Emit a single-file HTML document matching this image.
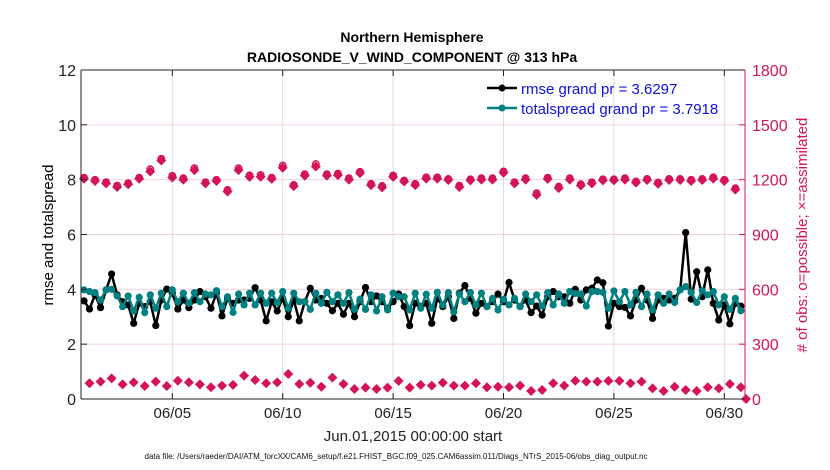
<!DOCTYPE html>
<html><head><meta charset="utf-8"><style>
body{margin:0;background:#fff;}
svg{display:block;font-family:"Liberation Sans",sans-serif;}
</style></head><body>
<svg id="chart" width="830" height="470" viewBox="0 0 830 470">
<rect width="830" height="470" fill="#fff"/>
<text x="412" y="42" text-anchor="middle" font-size="14" font-weight="bold">Northern Hemisphere</text>
<text x="412" y="62" text-anchor="middle" font-size="14" font-weight="bold">RADIOSONDE_V_WIND_COMPONENT @ 313 hPa</text>
<g id="grid"></g>
<g id="marks"></g>
<g id="axes"></g>
<text transform="translate(53,235) rotate(-90)" text-anchor="middle" font-size="15">rmse and totalspread</text>
<text transform="translate(807,235) rotate(-90)" text-anchor="middle" font-size="15" fill="#D4145A"># of obs: o=possible; ×=assimilated</text>
<text x="413" y="441" text-anchor="middle" font-size="15" fill="#222">Jun.01,2015 00:00:00 start</text>
<text x="396" y="459" text-anchor="middle" font-size="8" textLength="503" lengthAdjust="spacingAndGlyphs" fill="#111">data file: /Users/raeder/DAI/ATM_forcXX/CAM6_setup/f.e21.FHIST_BGC.f09_025.CAM6assim.011/Diags_NTrS_2015-06/obs_diag_output.nc</text>
<g>
<line x1="487" y1="88" x2="517" y2="88" stroke="#000" stroke-width="2.5"/>
<circle cx="502" cy="88" r="3.5" fill="#000"/>
<text x="521" y="94" font-size="15" fill="#1010E0">rmse grand pr = 3.6297</text>
<line x1="487" y1="108" x2="517" y2="108" stroke="#008080" stroke-width="2.5"/>
<circle cx="502" cy="108" r="3.5" fill="#008080"/>
<text x="521" y="114" font-size="15" fill="#1010E0">totalspread grand pr = 3.7918</text>
</g>
</svg>
<script>
const xTickLabels = ["06/05","06/10","06/15","06/20","06/25","06/30"];
const xTickDays = [5,10,15,20,25,30];
const leftTicks = [0,2,4,6,8,10,12];
const rightTicks = [0,300,600,900,1200,1500,1800];
const rmse = [3.58,3.28,3.80,3.33,3.98,4.56,3.80,3.55,3.43,2.76,3.49,3.37,3.55,2.68,3.61,4.01,3.86,3.28,3.61,3.33,3.61,3.92,3.73,3.31,3.86,3.03,3.67,3.49,3.61,3.61,3.67,4.06,3.61,2.85,3.55,3.21,3.67,3.00,3.61,2.85,
3.55,4.04,3.61,3.67,3.49,3.22,3.49,3.09,3.49,3.00,3.55,4.07,3.55,3.76,3.55,3.31,3.55,3.83,3.37,2.68,3.49,3.37,3.49,2.76,3.67,3.37,3.73,2.94,3.86,4.14,3.67,3.13,3.49,3.37,3.55,3.83,3.55,4.25,3.61,3.37,
3.61,3.15,3.39,3.06,3.73,3.92,3.73,3.73,3.49,4.00,3.61,3.98,4.04,4.34,4.24,2.66,3.49,3.37,3.34,3.03,3.61,4.04,3.61,2.94,3.61,3.67,3.61,3.67,3.98,6.07,3.64,4.64,3.73,4.71,3.49,2.88,3.43,2.74,3.49,3.39];
const spread = [3.98,3.92,3.88,3.61,3.98,4.00,3.76,3.37,3.76,3.21,3.71,3.15,3.80,3.31,3.86,3.37,3.98,3.55,3.86,3.49,3.88,3.55,3.83,3.80,3.95,3.37,3.73,3.16,3.83,3.43,3.86,3.43,3.86,3.49,3.86,3.51,3.92,3.31,3.86,3.55,
3.55,3.27,3.86,3.49,3.89,3.55,3.80,3.49,3.88,3.27,3.64,3.27,3.80,3.21,3.73,3.25,3.86,3.73,3.73,3.25,3.86,3.31,3.82,3.31,3.89,3.43,3.88,3.18,3.83,3.55,3.88,3.43,3.86,3.37,3.67,3.25,3.64,3.43,3.67,3.37,
3.83,3.55,3.80,3.39,3.88,3.43,3.83,3.49,3.92,3.85,3.83,3.39,3.92,3.92,3.89,3.31,3.94,3.55,3.92,3.43,3.89,3.37,3.83,3.25,3.80,3.49,3.83,3.52,3.98,4.10,3.88,3.52,3.95,3.80,3.92,3.43,3.73,3.27,3.67,3.22];
const possibleUpper = [1211,1199,1186,1168,1181,1211,1257,1314,1221,1208,1263,1186,1199,1144,1263,1224,1226,1211,1277,1171,1230,1285,1230,1233,1208,1243,1177,1166,1223,1195,1177,1213,1213,1204,1168,1202,1208,1208,1245,1186,1208,1126,1211,1162,1208,1175,1186,1202,1202,1208,1190,1204,1184,1204,1204,1199,1204,1213,1199,1153];
const assimUpper = [1205,1193,1180,1160,1175,1205,1245,1305,1212,1200,1252,1180,1193,1135,1252,1215,1216,1204,1265,1165,1222,1272,1222,1225,1200,1236,1170,1158,1215,1190,1170,1206,1206,1198,1160,1196,1200,1200,1238,1180,1200,1117,1204,1154,1200,1168,1180,1196,1196,1200,1184,1198,1178,1198,1198,1193,1198,1206,1193,1146];
const lowerObs = [86,95,113,80,91,71,95,71,100,91,80,64,73,77,128,104,86,91,137,82,89,67,117,82,55,62,55,62,99,62,77,73,89,73,73,86,64,67,64,73,44,49,86,73,100,95,95,99,99,86,95,58,44,67,49,44,64,58,82,64,0];

const L=81,R=745,T=70,B=399;
const xS=d=>84+(d-1)*22.08;
const yS=v=>B-(v/12)*(B-T);
const yR=v=>B-(v/1800)*(B-T);
const NS='http://www.w3.org/2000/svg';
function mk(tag,attrs,parent){const e=document.createElementNS(NS,tag);for(const k in attrs)e.setAttribute(k,attrs[k]);parent.appendChild(e);return e;}
const grid=document.getElementById('grid'),marks=document.getElementById('marks'),axes=document.getElementById('axes');
const RED='#D4145A';
xTickDays.forEach((d,i)=>{
  const x=xS(d);
  const g=mk('line',{x1:x,y1:T,x2:x,y2:B,stroke:'#dcdcdc','stroke-width':1},grid);
  
  
  mk('line',{x1:x,y1:B,x2:x,y2:B-6,stroke:'#222','stroke-width':1},axes);
  mk('line',{x1:x,y1:T,x2:x,y2:T+6,stroke:'#222','stroke-width':1},axes);
  const t=mk('text',{x:x,y:418,'text-anchor':'middle','font-size':15,fill:'#222'},axes);
  t.textContent=xTickLabels[i];
  
  
});
leftTicks.forEach(v=>{
  const y=yS(v);
  if(v>0&&v<12){const g=mk('line',{x1:L,y1:y,x2:R,y2:y,stroke:'#f5d0dc','stroke-width':1},grid);
  
  }
  mk('line',{x1:L,y1:y,x2:L+6,y2:y,stroke:'#222'},axes);
  const t=mk('text',{x:76,y:y+6,'text-anchor':'end','font-size':16,fill:'#222'},axes);
  t.textContent=v;
  
  
});
rightTicks.forEach(v=>{
  const y=yR(v);
  mk('line',{x1:R,y1:y,x2:R-6,y2:y,stroke:RED},axes);
  const t=mk('text',{x:752,y:y+6,'font-size':16,fill:RED},axes);
  t.textContent=v;
  
  
});
mk('line',{x1:L,y1:T,x2:R,y2:T,stroke:'#222'},axes);
mk('line',{x1:L,y1:B,x2:R,y2:B,stroke:'#222'},axes);
mk('line',{x1:L,y1:T,x2:L,y2:B,stroke:'#222'},axes);
mk('line',{x1:R,y1:T,x2:R,y2:B,stroke:RED},axes);

function diamond(x,y,s){return `M${x},${y-s}L${x+s},${y}L${x},${y+s}L${x-s},${y}Z`;}
// obs upper
possibleUpper.forEach((v,k)=>{
  const x=xS(1+0.5*k);
  const c=mk('circle',{cx:x,cy:yR(v),r:3.2,fill:'none',stroke:RED,'stroke-width':1.5},marks);
  
  
});
assimUpper.forEach((v,k)=>{
  const x=xS(1+0.5*k);
  const p=mk('path',{d:diamond(x,yR(v),5),fill:RED},marks);
  
  
});
lowerObs.forEach((v,k)=>{
  const x=Math.min(xS(1.25+0.5*k),R+1);
  const p=mk('path',{d:diamond(x,yR(v),5),fill:RED},marks);
  
  
});
function series(arr,color,name){
  const pts=arr.map((v,i)=>xS(1+0.25*i).toFixed(1)+','+yS(v).toFixed(1)).join(' ');
  const pl=mk('polyline',{points:pts,fill:'none',stroke:color,'stroke-width':2.5,'stroke-linejoin':'round'},marks);
  
  
  arr.forEach((v,i)=>{
    const c=mk('circle',{cx:xS(1+0.25*i),cy:yS(v),r:3.6,fill:color},marks);
    
    
  });
}
series(rmse,'#000','rmse');
series(spread,'#008080','totalspread');
</script>
</body></html>
